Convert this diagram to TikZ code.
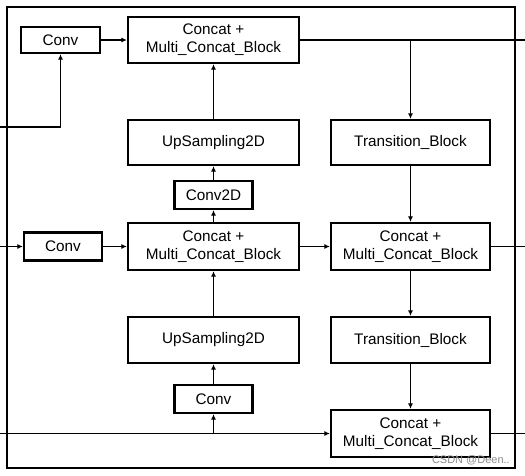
\documentclass[tikz,border=0pt]{standalone}
\usepackage{fontspec}
\setmainfont{Liberation Sans}
\usetikzlibrary{arrows.meta}
\begin{document}
\begin{tikzpicture}[x=1pt,y=-1pt,
  blk/.style={draw, line width=2.2pt, fill=white, inner sep=0pt, align=center,
    font=\fontsize{15.3}{18}\selectfont},
  arr/.style={line width=1.8pt, -{Latex[length=5.5pt,width=5pt]}},
  ln/.style={line width=1.8pt}]
\useasboundingbox (0,0) rectangle (525,475);
\fill[white] (0,0) rectangle (525,475);
\draw[line width=2.2pt] (7,7) rectangle (515,468);
% nodes
\node[blk, minimum width=79pt, minimum height=26pt] (conv1) at (60.5,40) {Conv};
\node[blk, minimum width=171pt, minimum height=46pt] (cat1) at (213.5,40) {Concat +\\Multi\_Concat\_Block};
\node[blk, minimum width=171pt, minimum height=45pt] (up1) at (213.5,142.5) {UpSampling2D};
\node[blk, minimum width=159pt, minimum height=45pt] (trans1) at (410.5,142.5) {Transition\_Block};
\node[blk, minimum width=78pt, minimum height=28pt] (conv2d) at (213.5,195) {Conv2D};
\node[blk, minimum width=171pt, minimum height=47pt] (cat2) at (213.5,246.5) {Concat +\\Multi\_Concat\_Block};
\node[blk, minimum width=78pt, minimum height=28pt] (conv2) at (63,246.5) {Conv};
\node[blk, minimum width=159pt, minimum height=47pt] (cat3) at (410.5,246.5) {Concat +\\Multi\_Concat\_Block};
\node[blk, minimum width=171pt, minimum height=46pt] (up2) at (213.5,340) {UpSampling2D};
\node[blk, minimum width=159pt, minimum height=46pt] (trans2) at (410.5,340) {Transition\_Block};
\node[blk, minimum width=78pt, minimum height=28pt] (conv3) at (213.5,399) {Conv};
\node[blk, minimum width=159pt, minimum height=47pt] (cat4) at (410.5,433.5) {Concat +\\Multi\_Concat\_Block};
% free ends
\coordinate (in1) at (0,127);
\coordinate (in2) at (0,246.5);
\coordinate (in3) at (0,433.5);
\coordinate (out1) at (525,40);
\coordinate (out2) at (525,246.5);
\coordinate (out3) at (525,433.5);
% connectors
\draw[arr] (in1) -| (conv1.south);
\draw[arr] (conv1.east) -- (cat1.west);
\draw[ln] (cat1.east) -- (out1);
\draw[arr] (trans1.north |- cat1.east) -- (trans1.north);
\draw[arr] (up1.north) -- (cat1.south);
\draw[arr] (conv2d.north) -- (up1.south);
\draw[arr] (cat2.north) -- (conv2d.south);
\draw[arr] (in2) -- (conv2.west);
\draw[arr] (conv2.east) -- (cat2.west);
\draw[arr] (cat2.east) -- (cat3.west);
\draw[arr] (trans1.south) -- (cat3.north);
\draw[ln] (cat3.east) -- (out2);
\draw[arr] (cat3.south) -- (trans2.north);
\draw[arr] (trans2.south) -- (cat4.north);
\draw[arr] (up2.north) -- (cat2.south);
\draw[arr] (conv3.north) -- (up2.south);
\draw[arr] (in3) -- (cat4.west);
\draw[arr] (conv3.south |- in3) -- (conv3.south);
\draw[ln] (cat4.east) -- (out3);
% watermark
\node[text=black!45, font=\fontsize{11}{13}\selectfont, inner sep=0pt, anchor=east] (wm) at (510,460) {CSDN @Deen..};
\end{tikzpicture}
\end{document}
